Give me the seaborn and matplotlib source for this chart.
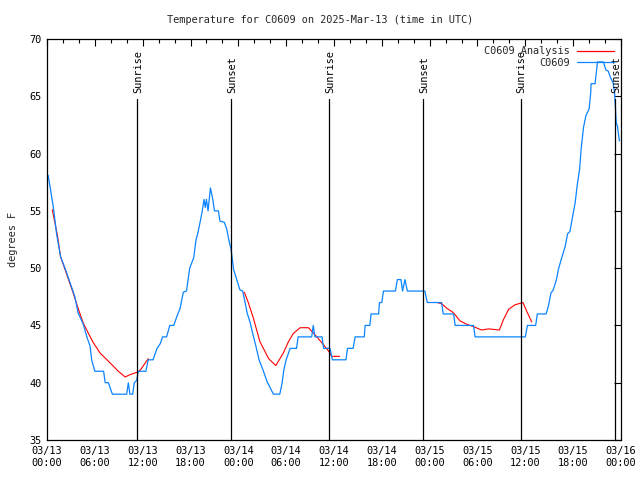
import numpy as np
import pandas as pd
import matplotlib
matplotlib.use("Agg")
import matplotlib.pyplot as plt
from matplotlib.lines import Line2D
import seaborn as sns

# ---- data (hours since 03/13 00:00 UTC, degrees F) ----
obs_hours = [0.15, 0.8, 1.2, 1.7, 2.26, 2.9, 3.5, 3.9, 4.55, 5.0, 5.4, 5.6, 6.0, 7.1, 7.3, 7.7,
             8.2, 10.0, 10.2, 10.4, 10.75, 10.95, 11.25, 11.45, 12.4, 12.7, 13.3, 13.8, 14.2,
             14.5, 15.0, 15.4, 15.9, 16.3, 16.7, 17.1, 17.5, 17.9, 18.4, 18.7, 18.9, 19.2,
             19.45, 19.7, 19.85, 20.0, 20.2, 20.5, 20.8, 21.0, 21.5, 21.7, 22.25, 22.55, 22.8,
             23.1, 23.4, 23.8, 24.2, 24.55, 24.85, 25.1, 25.5, 25.8, 26.2, 26.6, 27.1, 27.6,
             28.4, 29.2, 29.5, 29.7, 30.0, 30.5, 31.3, 31.5, 33.2, 33.4, 33.6, 34.5, 34.7,
             35.5, 35.8, 37.5, 37.7, 38.4, 38.65, 39.8, 39.9, 40.5, 40.65, 41.6, 41.7, 42.0,
             42.2, 43.7, 43.95, 44.4, 44.6, 44.9, 45.2, 47.4, 47.7, 49.5, 49.7, 51.0, 51.2,
             53.5, 53.7, 60.0, 60.26, 61.3, 61.5, 62.6, 62.9, 63.2, 63.5, 63.9, 64.15, 64.6,
             65.0, 65.3, 65.6, 66.0, 66.25, 66.5, 66.8, 67.0, 67.3, 67.6, 68.0, 68.2, 68.25,
             68.75, 69.05, 69.8, 70.1, 70.4, 70.7, 71.0, 71.2, 71.4, 71.55, 71.7, 71.8]
obs_temps = [58.1, 55.3, 53.0, 51.0, 50.0, 48.7, 47.5, 46.1, 45.1, 44.0, 43.2, 42.0, 41.0, 41.0,
             40.0, 40.0, 39.0, 39.0, 40.0, 39.0, 39.0, 40.0, 40.2, 41.0, 41.0, 42.0, 42.0, 43.0,
             43.4, 44.0, 44.0, 45.0, 45.0, 45.8, 46.5, 47.9, 48.0, 50.0, 50.9, 52.5, 53.0, 54.0,
             54.9, 56.0, 55.3, 56.0, 55.0, 57.0, 56.0, 55.0, 55.0, 54.1, 54.0, 53.4, 52.5, 51.6,
             49.9, 49.0, 48.1, 48.0, 47.0, 46.1, 45.2, 44.3, 43.2, 42.0, 41.1, 40.1, 39.0, 39.0,
             40.0, 41.1, 42.0, 43.0, 43.0, 44.0, 44.0, 45.0, 44.0, 44.0, 43.0, 43.0, 42.0, 42.0,
             43.0, 43.0, 44.0, 44.0, 45.0, 45.0, 46.0, 46.0, 47.0, 47.0, 48.0, 48.0, 49.0, 49.0,
             48.0, 49.0, 48.0, 48.0, 47.0, 47.0, 46.0, 46.0, 45.0, 45.0, 44.0, 44.0, 45.0, 45.0,
             46.0, 46.0, 46.7, 47.8, 48.1, 49.0, 49.9, 51.0, 51.9, 53.0, 53.2, 54.8, 55.7, 57.2,
             58.6, 60.4, 62.3, 63.3, 63.9, 65.3, 66.1, 66.1, 68.0, 68.0, 67.3, 67.2, 66.6, 66.2,
             65.3, 62.7, 62.4, 61.6, 61.1]

ana_seg1_hours = [0.66, 1.3, 1.7, 2.1, 2.7, 3.3, 3.9, 4.55, 5.2, 5.8, 6.65, 8.1, 8.95, 9.8,
                  10.4, 11.25, 11.7, 12.7]
ana_seg1_temps = [55.1, 52.9, 51.0, 50.2, 49.0, 47.8, 46.5, 45.2, 44.3, 43.5, 42.6, 41.6, 41.0,
                  40.5, 40.7, 40.9, 41.1, 42.1]
ana_seg2_hours = [24.75, 25.25, 25.9, 26.7, 27.8, 28.7, 29.65, 30.3, 30.9, 31.75, 32.8, 33.85,
                  34.7, 35.5, 35.7, 36.7]
ana_seg2_temps = [47.9, 47.0, 45.6, 43.6, 42.1, 41.5, 42.6, 43.6, 44.3, 44.8, 44.8, 44.0, 43.3,
                  42.6, 42.3, 42.3]
ana_seg3_hours = [48.9, 49.5, 50.15, 51.0, 51.8, 52.65, 53.5, 54.5, 55.4, 56.75, 57.25, 57.9,
                  58.7, 59.7, 60.2, 60.8]
ana_seg3_temps = [47.0, 46.9, 46.5, 46.1, 45.4, 45.1, 44.9, 44.6, 44.7, 44.6, 45.5, 46.4, 46.8,
                  47.0, 46.2, 45.3]

event_hours = [11.33, 23.13, 35.42, 47.2, 59.4, 71.3]
event_labels = ["Sunrise", "Sunset", "Sunrise", "Sunset", "Sunrise", "Sunset"]

xtick_hours = [0, 6, 12, 18, 24, 30, 36, 42, 48, 54, 60, 66, 72]
xtick_labels = ["03/13\n00:00", "03/13\n06:00", "03/13\n12:00", "03/13\n18:00",
                "03/14\n00:00", "03/14\n06:00", "03/14\n12:00", "03/14\n18:00",
                "03/15\n00:00", "03/15\n06:00", "03/15\n12:00", "03/15\n18:00",
                "03/16\n00:00"]
ytick_values = [35, 40, 45, 50, 55, 60, 65, 70]

title = "Temperature for C0609 on 2025-Mar-13 (time in UTC)"
ylabel = "degrees F"
obs_name = "C0609"
ana_name = "C0609 Analysis"

# ---- build tables ----
obs_df = pd.DataFrame({"hour": obs_hours, "temp": obs_temps})
ana_df = pd.concat([
    pd.DataFrame({"hour": ana_seg1_hours, "temp": ana_seg1_temps, "seg": 1}),
    pd.DataFrame({"hour": ana_seg2_hours, "temp": ana_seg2_temps, "seg": 2}),
    pd.DataFrame({"hour": ana_seg3_hours, "temp": ana_seg3_temps, "seg": 3}),
], ignore_index=True)

sns.set_style("white")
plt.rcParams["font.family"] = ["DejaVu Sans Mono", "DejaVu Sans"]
FS = 7.4

BLUE = "#0a84ff"
RED = "#ff0000"

fig = plt.figure(figsize=(6.4, 4.8), dpi=100)
ax = fig.add_axes([47 / 640, 40 / 480, (621 - 47) / 640, (441 - 40) / 480])

sns.lineplot(data=ana_df, x="hour", y="temp", units="seg", estimator=None, sort=False,
             color=RED, lw=0.8, ax=ax)
sns.lineplot(data=obs_df, x="hour", y="temp", estimator=None, sort=False,
             color=BLUE, lw=0.9, ax=ax)

# sunrise / sunset markers
for h, lab in zip(event_hours, event_labels):
    ax.plot([h, h], [35, 64.8], color="black", lw=0.9, zorder=3)
    ax.text(h + 0.15, 65.3, lab, rotation=90, ha="center", va="bottom",
            fontsize=FS, color="black")

ax.set_xlim(0, 72)
ax.set_ylim(35, 70)
ax.set_xticks(xtick_hours)
ax.set_xticklabels(xtick_labels, fontsize=FS, linespacing=1.3)
ax.set_xticks(np.arange(0, 73, 2), minor=True)
ax.set_yticks(ytick_values)
ax.set_yticklabels([str(v) for v in ytick_values], fontsize=FS)
ax.tick_params(axis="both", which="both", direction="in", top=True, right=True,
               width=0.8, color="black", labelcolor="black")
ax.tick_params(axis="both", which="major", length=5, pad=4)
ax.tick_params(axis="x", which="minor", length=3)
ax.set_xlabel("")
ax.set_ylabel(ylabel, fontsize=FS, labelpad=8)
for sp in ax.spines.values():
    sp.set_color("black")
    sp.set_linewidth(0.9)
    sp.set_visible(True)

fig.text(0.5, 1 - 20 / 480, title, ha="center", va="center", fontsize=FS)

handles = [Line2D([], [], color=RED, lw=0.9), Line2D([], [], color=BLUE, lw=0.9)]
leg = ax.legend(handles, [ana_name, obs_name], loc="upper right", frameon=False,
                markerfirst=False, fontsize=FS, handlelength=3.6, handletextpad=0.7,
                labelspacing=0.15, borderaxespad=0.3, borderpad=0.4)

fig.savefig("out.png", dpi=100)
